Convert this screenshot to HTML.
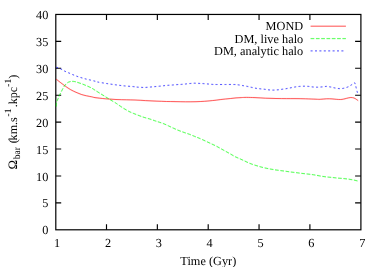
<!DOCTYPE html>
<html><head><meta charset="utf-8">
<title>Bar pattern speed</title>
<style>
html,body{margin:0;padding:0;background:#fff;}
body{width:382px;height:267px;overflow:hidden;}
svg{display:block;will-change:transform;}
text{font-family:"Liberation Serif",serif;font-size:12.3px;fill:#000;}
.s{font-size:9.6px;}
</style></head><body>
<svg width="382" height="267" viewBox="0 0 382 267">
<rect width="382" height="267" fill="#fff"/>
<g stroke="#000" stroke-width="1.2" fill="none">
<rect x="55.80" y="14.45" width="305.10" height="215.35"/>
<g stroke-width="1.15">
<path d="M55.80,202.88h5.4 M360.90,202.88h-5.8"/>
<path d="M55.80,175.96h5.4 M360.90,175.96h-5.8"/>
<path d="M55.80,149.04h5.4 M360.90,149.04h-5.8"/>
<path d="M55.80,122.12h5.4 M360.90,122.12h-5.8"/>
<path d="M55.80,95.21h5.4 M360.90,95.21h-5.8"/>
<path d="M55.80,68.29h5.4 M360.90,68.29h-5.8"/>
<path d="M55.80,41.37h5.4 M360.90,41.37h-5.8"/>
<path d="M106.50,229.80v-5.5 M106.50,14.45v5.5"/>
<path d="M157.35,229.80v-5.5 M157.35,14.45v5.5"/>
<path d="M208.20,229.80v-5.5 M208.20,14.45v5.5"/>
<path d="M259.05,229.80v-5.5 M259.05,14.45v5.5"/>
<path d="M309.90,229.80v-5.5 M309.90,14.45v5.5"/>
</g>
</g>
<g text-anchor="end">
<text transform="translate(48.4 234.3) skewX(0.1)">0</text>
<text transform="translate(48.4 207.4) skewX(0.1)">5</text>
<text transform="translate(48.4 180.5) skewX(0.1)">10</text>
<text transform="translate(48.4 153.5) skewX(0.1)">15</text>
<text transform="translate(48.4 126.6) skewX(0.1)">20</text>
<text transform="translate(48.4 99.7) skewX(0.1)">25</text>
<text transform="translate(48.4 72.8) skewX(0.1)">30</text>
<text transform="translate(48.4 45.9) skewX(0.1)">35</text>
<text transform="translate(48.4 18.9) skewX(0.1)">40</text>
</g>
<g text-anchor="middle">
<text transform="translate(57.2 246.7) skewX(0.1)">1</text>
<text transform="translate(108.0 246.7) skewX(0.1)">2</text>
<text transform="translate(158.9 246.7) skewX(0.1)">3</text>
<text transform="translate(209.7 246.7) skewX(0.1)">4</text>
<text transform="translate(260.6 246.7) skewX(0.1)">5</text>
<text transform="translate(311.4 246.7) skewX(0.1)">6</text>
<text transform="translate(362.3 246.7) skewX(0.1)">7</text>
<text transform="translate(208.3 264.7) skewX(0.1)">Time (Gyr)</text>
</g>
<text transform="translate(16.6 122.05) rotate(-90) skewX(0.1)" text-anchor="middle" style="font-size:12.15px"><tspan style="font-size:12.8px" stroke="#000" stroke-width="0.08">Ω</tspan><tspan class="s" dy="3.7" dx="0.6">bar</tspan><tspan dy="-3.7" dx="0.7"> (</tspan><tspan dx="-1.15">km.s</tspan><tspan class="s" dy="-5.8" dx="0.65">-1 </tspan><tspan dy="5.8" dx="-1.2">.kpc</tspan><tspan class="s" dy="-5.8">-1</tspan><tspan dy="5.8">)</tspan></text>
<g text-anchor="end">
<text transform="translate(303.2 30.4) skewX(0.1)">MOND</text>
<text transform="translate(303.2 42.5) skewX(0.1)">DM, live halo</text>
<text transform="translate(303.2 54.7) skewX(0.1)">DM, analytic halo</text>
</g>
<g fill="none" stroke-width="1.6" stroke-opacity="0.1">
<path d="M310.6,26.2H345.9" stroke="#f00"/>
<path d="M310.6,38.6H345.9" stroke="#0f0" stroke-dasharray="3.7,1.6"/>
<path d="M310.6,50.9H345" stroke="#00f" stroke-dasharray="2,2.4"/>
<path stroke="#f00" d="M56.2,79.2 C56.9,79.7 58.7,81.1 60.2,82.3 C61.8,83.5 63.8,85.1 65.5,86.3 C67.2,87.5 69.0,88.7 70.7,89.7 C72.5,90.7 74.2,91.5 76.0,92.3 C77.8,93.1 79.5,93.8 81.2,94.4 C83.0,95.0 84.8,95.4 86.5,95.8 C88.2,96.2 90.3,96.5 91.7,96.8 C93.1,97.1 92.7,97.3 95.0,97.6 C97.3,97.9 102.0,98.5 105.5,98.8 C109.0,99.1 112.5,99.3 116.0,99.5 C119.5,99.7 123.3,99.7 126.5,99.8 C129.7,99.9 131.8,99.9 135.0,100.0 C138.2,100.1 142.0,100.4 145.5,100.6 C149.0,100.8 152.5,100.9 156.0,101.1 C159.5,101.2 163.3,101.4 166.5,101.5 C169.7,101.6 171.8,101.5 175.0,101.6 C178.2,101.6 182.0,101.8 185.5,101.8 C189.0,101.8 192.8,101.8 196.0,101.7 C199.2,101.6 201.2,101.5 204.4,101.3 C207.6,101.1 212.4,100.6 215.0,100.3 C217.6,100.0 218.4,99.8 220.2,99.6 C221.9,99.4 223.8,99.2 225.5,99.0 C227.2,98.8 228.9,98.7 230.7,98.5 C232.4,98.3 234.2,98.1 236.0,97.9 C237.8,97.8 239.4,97.7 241.2,97.6 C242.9,97.5 244.2,97.4 246.5,97.4 C248.8,97.4 251.8,97.5 255.0,97.6 C258.2,97.7 262.0,98.0 265.5,98.2 C269.0,98.4 272.5,98.4 276.0,98.5 C279.5,98.6 283.3,98.6 286.5,98.6 C289.7,98.6 291.8,98.6 295.0,98.6 C298.2,98.6 302.0,98.7 305.5,98.8 C309.0,98.9 313.6,99.1 316.0,99.2 C318.4,99.3 318.4,99.4 320.2,99.3 C321.9,99.2 324.5,98.9 326.5,98.8 C328.5,98.7 330.4,98.8 332.0,98.9 C333.6,99.0 334.8,99.2 336.2,99.3 C337.6,99.4 339.2,99.5 340.4,99.5 C341.6,99.5 342.4,99.3 343.5,99.1 C344.6,98.9 345.5,98.6 346.7,98.3 C347.9,98.0 349.7,97.5 350.9,97.5 C352.1,97.5 353.0,97.7 354.0,98.0 C355.0,98.3 356.0,99.1 356.7,99.6 C357.4,100.0 357.9,100.5 358.2,100.7"/>
<path stroke="#0f0" stroke-dasharray="3.7,1.6" d="M56.3,106.5 C56.3,105.8 56.3,103.6 56.6,102.3 C56.9,101.0 57.5,100.0 58.1,98.6 C58.7,97.2 59.5,95.4 60.2,93.9 C60.9,92.4 61.6,91.0 62.3,89.7 C63.0,88.4 63.7,87.0 64.4,86.0 C65.1,85.0 65.8,84.2 66.5,83.6 C67.2,82.9 67.9,82.4 68.6,82.1 C69.3,81.8 69.9,81.6 70.7,81.5 C71.5,81.4 72.5,81.3 73.4,81.4 C74.3,81.5 74.7,81.5 76.0,81.9 C77.3,82.3 79.5,83.0 81.2,83.6 C83.0,84.2 84.8,85.0 86.5,85.7 C88.2,86.5 90.3,87.3 91.7,88.1 C93.1,88.8 93.6,89.3 95.0,90.2 C96.4,91.1 98.5,92.4 100.2,93.5 C102.0,94.6 103.8,95.7 105.5,96.8 C107.2,97.9 109.0,98.9 110.7,100.0 C112.5,101.1 114.8,102.4 116.0,103.2 C117.2,104.0 116.8,103.8 118.0,104.6 C119.2,105.4 121.5,107.0 123.2,108.1 C125.0,109.2 126.8,110.3 128.5,111.2 C130.2,112.1 131.9,112.8 133.7,113.5 C135.4,114.2 137.2,114.9 139.0,115.6 C140.8,116.2 142.4,116.9 144.2,117.4 C145.9,118.0 147.8,118.4 149.5,118.9 C151.2,119.5 153.3,120.2 154.7,120.7 C156.1,121.2 156.6,121.3 158.0,121.8 C159.4,122.3 161.4,122.8 163.2,123.5 C164.9,124.2 166.8,125.1 168.5,125.9 C170.2,126.7 171.9,127.5 173.7,128.3 C175.4,129.1 177.2,129.9 179.0,130.6 C180.8,131.3 182.4,131.9 184.2,132.5 C185.9,133.1 187.8,133.7 189.5,134.3 C191.2,135.0 193.3,135.8 194.7,136.4 C196.1,137.0 196.8,137.2 198.0,137.7 C199.2,138.2 200.7,138.8 202.2,139.5 C203.7,140.2 205.3,141.0 206.9,141.7 C208.5,142.4 210.0,143.2 211.6,143.9 C213.2,144.7 214.8,145.4 216.4,146.2 C218.0,147.0 219.5,147.9 221.1,148.8 C222.7,149.7 224.2,150.5 225.8,151.4 C227.4,152.3 228.9,153.1 230.5,154.0 C232.1,154.9 233.7,156.0 235.3,156.8 C236.9,157.6 238.6,158.2 240.2,158.9 C241.8,159.6 243.3,160.4 244.9,161.1 C246.5,161.8 248.0,162.7 249.6,163.3 C251.2,164.0 252.7,164.4 254.4,165.0 C256.1,165.6 258.0,166.1 259.6,166.6 C261.2,167.1 262.6,167.4 264.3,167.8 C266.0,168.2 267.9,168.6 269.6,168.9 C271.4,169.2 273.0,169.5 274.8,169.8 C276.6,170.1 278.8,170.3 280.7,170.6 C282.6,170.8 284.3,171.1 286.0,171.3 C287.7,171.5 289.1,171.8 290.7,172.0 C292.3,172.2 294.1,172.4 295.9,172.6 C297.6,172.8 299.4,173.1 301.2,173.3 C302.9,173.5 304.6,173.7 306.4,173.9 C308.1,174.1 310.1,174.3 311.7,174.5 C313.3,174.7 314.3,174.9 316.0,175.2 C317.7,175.5 320.1,176.0 322.0,176.3 C323.9,176.6 325.4,176.8 327.2,177.0 C328.9,177.2 330.8,177.3 332.5,177.5 C334.2,177.7 335.9,177.9 337.7,178.1 C339.4,178.3 341.2,178.3 343.0,178.5 C344.8,178.7 346.4,178.8 348.2,179.1 C349.9,179.3 351.9,179.7 353.5,180.0 C355.1,180.3 357.0,180.8 357.7,181.0"/>
<path stroke="#00f" stroke-dasharray="2,2.4" d="M56.2,67.2 C56.9,67.5 59.1,68.2 60.4,68.8 C61.7,69.4 62.8,70.1 64.1,70.8 C65.4,71.5 66.9,72.1 68.3,72.7 C69.7,73.3 71.1,73.9 72.5,74.5 C73.9,75.1 75.3,75.7 76.7,76.2 C78.1,76.7 79.5,77.2 80.9,77.6 C82.3,78.0 83.7,78.4 85.1,78.8 C86.5,79.2 87.6,79.4 89.3,79.8 C91.0,80.2 93.6,80.8 95.0,81.2 C96.4,81.6 95.7,81.6 97.6,82.0 C99.5,82.4 103.5,83.0 106.5,83.5 C109.5,84.0 112.5,84.4 115.5,84.8 C118.5,85.2 121.4,85.6 124.4,85.9 C127.4,86.2 131.2,86.4 133.3,86.6 C135.4,86.8 135.7,87.0 137.1,87.1 C138.5,87.2 140.3,87.4 141.8,87.4 C143.3,87.5 144.5,87.5 146.0,87.4 C147.5,87.3 149.2,87.1 150.7,87.0 C152.2,86.9 153.6,86.7 155.0,86.6 C156.4,86.5 157.9,86.3 159.4,86.2 C160.9,86.1 162.5,85.9 163.9,85.7 C165.3,85.5 166.7,85.4 168.1,85.3 C169.5,85.2 171.1,85.1 172.6,85.0 C174.1,84.9 175.6,84.7 177.1,84.6 C178.6,84.5 179.9,84.5 181.3,84.4 C182.7,84.3 184.0,84.2 185.5,84.0 C187.0,83.8 188.7,83.6 190.2,83.5 C191.7,83.4 192.9,83.2 194.4,83.2 C195.9,83.2 197.6,83.3 199.1,83.4 C200.6,83.5 201.8,83.5 203.3,83.6 C204.8,83.7 206.6,83.9 208.1,84.0 C209.6,84.1 210.9,84.3 212.3,84.4 C213.7,84.5 214.4,84.5 216.6,84.5 C218.8,84.5 222.6,84.5 225.5,84.5 C228.4,84.5 232.0,84.4 234.2,84.5 C236.4,84.6 237.2,84.7 238.6,84.9 C240.0,85.1 241.4,85.3 242.8,85.6 C244.2,85.8 245.8,86.1 247.3,86.4 C248.8,86.7 250.2,87.1 251.7,87.4 C253.1,87.7 254.6,88.1 256.0,88.3 C257.4,88.5 258.7,88.6 260.2,88.8 C261.7,89.0 263.3,89.1 264.8,89.3 C266.3,89.5 267.7,89.8 269.2,89.9 C270.7,90.0 272.2,90.1 273.7,90.1 C275.2,90.1 276.6,89.9 278.1,89.8 C279.6,89.7 281.0,89.4 282.5,89.2 C284.0,89.0 285.6,88.8 287.0,88.5 C288.4,88.2 289.8,88.0 291.2,87.7 C292.6,87.4 294.1,87.1 295.5,86.9 C296.9,86.7 298.2,86.5 299.7,86.4 C301.1,86.3 302.7,86.2 304.2,86.2 C305.7,86.2 307.1,86.3 308.6,86.4 C310.1,86.5 311.6,86.9 313.1,87.0 C314.6,87.1 316.1,87.2 317.6,87.2 C319.1,87.2 320.6,87.0 322.1,86.9 C323.6,86.8 325.1,86.4 326.5,86.4 C327.9,86.4 329.3,86.8 330.7,87.0 C332.1,87.2 333.2,87.6 334.6,87.9 C336.0,88.2 337.8,88.5 339.3,88.6 C340.8,88.7 342.1,88.6 343.5,88.3 C344.9,88.0 346.4,87.6 347.7,87.0 C349.0,86.4 350.3,85.6 351.4,84.9 C352.5,84.2 353.6,82.9 354.3,82.8 C355.0,82.7 355.0,83.6 355.3,84.4 C355.6,85.2 355.8,86.3 356.1,87.5 C356.4,88.7 356.9,90.7 357.2,91.7 C357.5,92.7 357.6,93.0 357.7,93.3"/>
</g>
<g fill="none" stroke-width="0.6">
<path d="M310.6,26.2H345.9" stroke="#f00"/>
<path d="M310.6,38.6H345.9" stroke="#0f0" stroke-dasharray="3.7,1.6"/>
<path d="M310.6,50.9H345" stroke="#00f" stroke-dasharray="2,2.4"/>
<path stroke="#f00" d="M56.2,79.2 C56.9,79.7 58.7,81.1 60.2,82.3 C61.8,83.5 63.8,85.1 65.5,86.3 C67.2,87.5 69.0,88.7 70.7,89.7 C72.5,90.7 74.2,91.5 76.0,92.3 C77.8,93.1 79.5,93.8 81.2,94.4 C83.0,95.0 84.8,95.4 86.5,95.8 C88.2,96.2 90.3,96.5 91.7,96.8 C93.1,97.1 92.7,97.3 95.0,97.6 C97.3,97.9 102.0,98.5 105.5,98.8 C109.0,99.1 112.5,99.3 116.0,99.5 C119.5,99.7 123.3,99.7 126.5,99.8 C129.7,99.9 131.8,99.9 135.0,100.0 C138.2,100.1 142.0,100.4 145.5,100.6 C149.0,100.8 152.5,100.9 156.0,101.1 C159.5,101.2 163.3,101.4 166.5,101.5 C169.7,101.6 171.8,101.5 175.0,101.6 C178.2,101.6 182.0,101.8 185.5,101.8 C189.0,101.8 192.8,101.8 196.0,101.7 C199.2,101.6 201.2,101.5 204.4,101.3 C207.6,101.1 212.4,100.6 215.0,100.3 C217.6,100.0 218.4,99.8 220.2,99.6 C221.9,99.4 223.8,99.2 225.5,99.0 C227.2,98.8 228.9,98.7 230.7,98.5 C232.4,98.3 234.2,98.1 236.0,97.9 C237.8,97.8 239.4,97.7 241.2,97.6 C242.9,97.5 244.2,97.4 246.5,97.4 C248.8,97.4 251.8,97.5 255.0,97.6 C258.2,97.7 262.0,98.0 265.5,98.2 C269.0,98.4 272.5,98.4 276.0,98.5 C279.5,98.6 283.3,98.6 286.5,98.6 C289.7,98.6 291.8,98.6 295.0,98.6 C298.2,98.6 302.0,98.7 305.5,98.8 C309.0,98.9 313.6,99.1 316.0,99.2 C318.4,99.3 318.4,99.4 320.2,99.3 C321.9,99.2 324.5,98.9 326.5,98.8 C328.5,98.7 330.4,98.8 332.0,98.9 C333.6,99.0 334.8,99.2 336.2,99.3 C337.6,99.4 339.2,99.5 340.4,99.5 C341.6,99.5 342.4,99.3 343.5,99.1 C344.6,98.9 345.5,98.6 346.7,98.3 C347.9,98.0 349.7,97.5 350.9,97.5 C352.1,97.5 353.0,97.7 354.0,98.0 C355.0,98.3 356.0,99.1 356.7,99.6 C357.4,100.0 357.9,100.5 358.2,100.7"/>
<path stroke="#0f0" stroke-dasharray="3.7,1.6" d="M56.3,106.5 C56.3,105.8 56.3,103.6 56.6,102.3 C56.9,101.0 57.5,100.0 58.1,98.6 C58.7,97.2 59.5,95.4 60.2,93.9 C60.9,92.4 61.6,91.0 62.3,89.7 C63.0,88.4 63.7,87.0 64.4,86.0 C65.1,85.0 65.8,84.2 66.5,83.6 C67.2,82.9 67.9,82.4 68.6,82.1 C69.3,81.8 69.9,81.6 70.7,81.5 C71.5,81.4 72.5,81.3 73.4,81.4 C74.3,81.5 74.7,81.5 76.0,81.9 C77.3,82.3 79.5,83.0 81.2,83.6 C83.0,84.2 84.8,85.0 86.5,85.7 C88.2,86.5 90.3,87.3 91.7,88.1 C93.1,88.8 93.6,89.3 95.0,90.2 C96.4,91.1 98.5,92.4 100.2,93.5 C102.0,94.6 103.8,95.7 105.5,96.8 C107.2,97.9 109.0,98.9 110.7,100.0 C112.5,101.1 114.8,102.4 116.0,103.2 C117.2,104.0 116.8,103.8 118.0,104.6 C119.2,105.4 121.5,107.0 123.2,108.1 C125.0,109.2 126.8,110.3 128.5,111.2 C130.2,112.1 131.9,112.8 133.7,113.5 C135.4,114.2 137.2,114.9 139.0,115.6 C140.8,116.2 142.4,116.9 144.2,117.4 C145.9,118.0 147.8,118.4 149.5,118.9 C151.2,119.5 153.3,120.2 154.7,120.7 C156.1,121.2 156.6,121.3 158.0,121.8 C159.4,122.3 161.4,122.8 163.2,123.5 C164.9,124.2 166.8,125.1 168.5,125.9 C170.2,126.7 171.9,127.5 173.7,128.3 C175.4,129.1 177.2,129.9 179.0,130.6 C180.8,131.3 182.4,131.9 184.2,132.5 C185.9,133.1 187.8,133.7 189.5,134.3 C191.2,135.0 193.3,135.8 194.7,136.4 C196.1,137.0 196.8,137.2 198.0,137.7 C199.2,138.2 200.7,138.8 202.2,139.5 C203.7,140.2 205.3,141.0 206.9,141.7 C208.5,142.4 210.0,143.2 211.6,143.9 C213.2,144.7 214.8,145.4 216.4,146.2 C218.0,147.0 219.5,147.9 221.1,148.8 C222.7,149.7 224.2,150.5 225.8,151.4 C227.4,152.3 228.9,153.1 230.5,154.0 C232.1,154.9 233.7,156.0 235.3,156.8 C236.9,157.6 238.6,158.2 240.2,158.9 C241.8,159.6 243.3,160.4 244.9,161.1 C246.5,161.8 248.0,162.7 249.6,163.3 C251.2,164.0 252.7,164.4 254.4,165.0 C256.1,165.6 258.0,166.1 259.6,166.6 C261.2,167.1 262.6,167.4 264.3,167.8 C266.0,168.2 267.9,168.6 269.6,168.9 C271.4,169.2 273.0,169.5 274.8,169.8 C276.6,170.1 278.8,170.3 280.7,170.6 C282.6,170.8 284.3,171.1 286.0,171.3 C287.7,171.5 289.1,171.8 290.7,172.0 C292.3,172.2 294.1,172.4 295.9,172.6 C297.6,172.8 299.4,173.1 301.2,173.3 C302.9,173.5 304.6,173.7 306.4,173.9 C308.1,174.1 310.1,174.3 311.7,174.5 C313.3,174.7 314.3,174.9 316.0,175.2 C317.7,175.5 320.1,176.0 322.0,176.3 C323.9,176.6 325.4,176.8 327.2,177.0 C328.9,177.2 330.8,177.3 332.5,177.5 C334.2,177.7 335.9,177.9 337.7,178.1 C339.4,178.3 341.2,178.3 343.0,178.5 C344.8,178.7 346.4,178.8 348.2,179.1 C349.9,179.3 351.9,179.7 353.5,180.0 C355.1,180.3 357.0,180.8 357.7,181.0"/>
<path stroke="#00f" stroke-dasharray="2,2.4" d="M56.2,67.2 C56.9,67.5 59.1,68.2 60.4,68.8 C61.7,69.4 62.8,70.1 64.1,70.8 C65.4,71.5 66.9,72.1 68.3,72.7 C69.7,73.3 71.1,73.9 72.5,74.5 C73.9,75.1 75.3,75.7 76.7,76.2 C78.1,76.7 79.5,77.2 80.9,77.6 C82.3,78.0 83.7,78.4 85.1,78.8 C86.5,79.2 87.6,79.4 89.3,79.8 C91.0,80.2 93.6,80.8 95.0,81.2 C96.4,81.6 95.7,81.6 97.6,82.0 C99.5,82.4 103.5,83.0 106.5,83.5 C109.5,84.0 112.5,84.4 115.5,84.8 C118.5,85.2 121.4,85.6 124.4,85.9 C127.4,86.2 131.2,86.4 133.3,86.6 C135.4,86.8 135.7,87.0 137.1,87.1 C138.5,87.2 140.3,87.4 141.8,87.4 C143.3,87.5 144.5,87.5 146.0,87.4 C147.5,87.3 149.2,87.1 150.7,87.0 C152.2,86.9 153.6,86.7 155.0,86.6 C156.4,86.5 157.9,86.3 159.4,86.2 C160.9,86.1 162.5,85.9 163.9,85.7 C165.3,85.5 166.7,85.4 168.1,85.3 C169.5,85.2 171.1,85.1 172.6,85.0 C174.1,84.9 175.6,84.7 177.1,84.6 C178.6,84.5 179.9,84.5 181.3,84.4 C182.7,84.3 184.0,84.2 185.5,84.0 C187.0,83.8 188.7,83.6 190.2,83.5 C191.7,83.4 192.9,83.2 194.4,83.2 C195.9,83.2 197.6,83.3 199.1,83.4 C200.6,83.5 201.8,83.5 203.3,83.6 C204.8,83.7 206.6,83.9 208.1,84.0 C209.6,84.1 210.9,84.3 212.3,84.4 C213.7,84.5 214.4,84.5 216.6,84.5 C218.8,84.5 222.6,84.5 225.5,84.5 C228.4,84.5 232.0,84.4 234.2,84.5 C236.4,84.6 237.2,84.7 238.6,84.9 C240.0,85.1 241.4,85.3 242.8,85.6 C244.2,85.8 245.8,86.1 247.3,86.4 C248.8,86.7 250.2,87.1 251.7,87.4 C253.1,87.7 254.6,88.1 256.0,88.3 C257.4,88.5 258.7,88.6 260.2,88.8 C261.7,89.0 263.3,89.1 264.8,89.3 C266.3,89.5 267.7,89.8 269.2,89.9 C270.7,90.0 272.2,90.1 273.7,90.1 C275.2,90.1 276.6,89.9 278.1,89.8 C279.6,89.7 281.0,89.4 282.5,89.2 C284.0,89.0 285.6,88.8 287.0,88.5 C288.4,88.2 289.8,88.0 291.2,87.7 C292.6,87.4 294.1,87.1 295.5,86.9 C296.9,86.7 298.2,86.5 299.7,86.4 C301.1,86.3 302.7,86.2 304.2,86.2 C305.7,86.2 307.1,86.3 308.6,86.4 C310.1,86.5 311.6,86.9 313.1,87.0 C314.6,87.1 316.1,87.2 317.6,87.2 C319.1,87.2 320.6,87.0 322.1,86.9 C323.6,86.8 325.1,86.4 326.5,86.4 C327.9,86.4 329.3,86.8 330.7,87.0 C332.1,87.2 333.2,87.6 334.6,87.9 C336.0,88.2 337.8,88.5 339.3,88.6 C340.8,88.7 342.1,88.6 343.5,88.3 C344.9,88.0 346.4,87.6 347.7,87.0 C349.0,86.4 350.3,85.6 351.4,84.9 C352.5,84.2 353.6,82.9 354.3,82.8 C355.0,82.7 355.0,83.6 355.3,84.4 C355.6,85.2 355.8,86.3 356.1,87.5 C356.4,88.7 356.9,90.7 357.2,91.7 C357.5,92.7 357.6,93.0 357.7,93.3"/>
</g>
</svg>
</body></html>
